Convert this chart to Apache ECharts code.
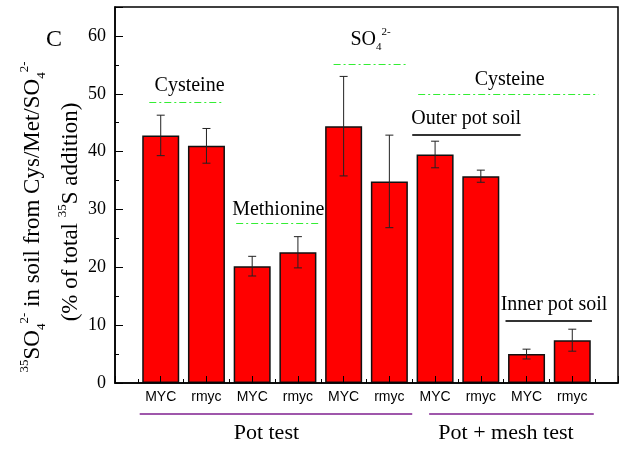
<!DOCTYPE html>
<html>
<head>
<meta charset="utf-8">
<script src="https://cdn.jsdelivr.net/npm/echarts@6/dist/echarts.min.js"></script>
<style>
  html, body { margin: 0; padding: 0; background: #fff; }
  #chart { width: 621px; height: 450px; }
</style>
</head>
<body>
<div id="chart"></div>
<script>
// Treatments along the x axis (one bar each)
const categories = ['MYC', 'rmyc', 'MYC', 'rmyc', 'MYC', 'rmyc', 'MYC', 'rmyc', 'MYC', 'rmyc'];
// 35SO4 2- recovered in soil, % of total 35S added
const means = [42.8, 41.0, 20.2, 22.6, 44.4, 34.85, 39.5, 35.75, 5.0, 7.4];
// Error bar half-lengths
const errors = [3.5, 3.0, 1.7, 2.7, 8.6, 8.0, 2.3, 1.05, 0.85, 1.9];
// Y axis range and step
const yTicks = { min: 0, max: 65, step: 10 };
// Group names below the axis
const groupNames = ['Pot test', 'Pot + mesh test'];

const SERIF = '"Liberation Serif", "Times New Roman", serif';
const SANS = '"Liberation Sans", Arial, sans-serif';
const GREEN = '#33ee33';

const barData = means.map((v, i) => [i + 1, v]);
const errData = means.map((v, i) => [i + 1, v - errors[i], v + errors[i]]);

const greenLine = { color: GREEN, width: 1.2, type: [7, 3, 2, 3] };
const blackLine = { color: '#333', width: 2, type: 'solid' };
function seg(x1, x2, y, style) {
  return [{ coord: [x1, y], lineStyle: style }, { coord: [x2, y] }];
}

const chart = echarts.init(document.getElementById('chart'), null, { renderer: 'canvas' });

const option = {
  animation: false,
  backgroundColor: '#fff',
  grid: {
    left: 115, top: 7, width: 511, height: 376,
    show: true, borderColor: '#000', borderWidth: 1.5, backgroundColor: 'transparent'
  },
  xAxis: {
    type: 'value', min: 0, max: 11, interval: 1, z: 10,
    splitLine: { show: false },
    axisLine: { show: true, lineStyle: { color: '#000', width: 1.5 } },
    axisTick: { show: true, inside: true, length: 7, lineStyle: { color: '#000', width: 1 } },
    minorTick: { show: true, splitNumber: 2, length: 4, lineStyle: { color: '#000', width: 1 } },
    axisLabel: {
      margin: 7, color: '#000', fontFamily: SANS, fontSize: 14,
      formatter: v => (v >= 1 && v <= categories.length ? categories[v - 1] : '')
    }
  },
  yAxis: {
    type: 'value', min: yTicks.min, max: yTicks.max, interval: yTicks.step, z: 10,
    splitLine: { show: false },
    axisLine: { show: true, lineStyle: { color: '#000', width: 1.5 } },
    axisTick: { show: true, inside: true, length: 8, lineStyle: { color: '#000', width: 1 } },
    minorTick: { show: true, splitNumber: 2, length: 4, lineStyle: { color: '#000', width: 1 } },
    axisLabel: {
      margin: 9, color: '#000', fontFamily: SERIF, fontSize: 18,
      formatter: v => (v % yTicks.step === 0 ? String(v) : '')
    }
  },
  series: [
    {
      type: 'bar',
      data: barData,
      barWidth: 37,
      itemStyle: { color: '#ff0000', borderColor: '#111', borderWidth: 1.5 },
      z: 2,
      markLine: {
        silent: true,
        symbol: 'none',
        label: { show: false },
        lineStyle: greenLine,
        data: [
          seg(0.75, 2.36, 48.6, greenLine),
          seg(2.65, 4.47, 27.6, greenLine),
          seg(4.78, 6.39, 55.1, greenLine),
          seg(6.63, 10.57, 49.9, greenLine),
          seg(6.5, 8.87, 43.0, blackLine),
          seg(8.54, 10.43, 10.8, blackLine)
        ]
      }
    },
    {
      type: 'custom',
      z: 3,
      data: errData,
      renderItem(params, api) {
        const x = api.value(0);
        const lo = api.coord([x, api.value(1)]);
        const hi = api.coord([x, api.value(2)]);
        const cap = 4;
        const st = { stroke: '#222', lineWidth: 1 };
        return {
          type: 'group',
          children: [
            { type: 'line', shape: { x1: hi[0], y1: hi[1], x2: lo[0], y2: lo[1] }, style: st },
            { type: 'line', shape: { x1: hi[0] - cap, y1: hi[1], x2: hi[0] + cap, y2: hi[1] }, style: st },
            { type: 'line', shape: { x1: lo[0] - cap, y1: lo[1], x2: lo[0] + cap, y2: lo[1] }, style: st }
          ]
        };
      }
    }
  ]
};
chart.setOption(option);

// Text placed in data coordinates
const px = (x, y) => chart.convertToPixel({ gridIndex: 0 }, [x, y]);
const richBase = {
  m: { fontFamily: SERIF, fontSize: 20, color: '#000', lineHeight: 26 },
  sup: { fontFamily: SERIF, fontSize: 11, color: '#000', verticalAlign: 'top', lineHeight: 12 },
  sub: { fontFamily: SERIF, fontSize: 11, color: '#000', verticalAlign: 'bottom', lineHeight: 12 }
};
function label(x, y, text, size) {
  const p = px(x, y);
  return {
    type: 'text', x: p[0], y: p[1],
    style: { text, fontFamily: SERIF, fontSize: size || 20, fill: '#000', align: 'center', verticalAlign: 'middle' }
  };
}

const so4 = px(5.59, 59.3);
const axisY = px(0, 0)[1];
const g1a = px(0.54, 0)[0], g1b = px(6.5, 0)[0];
const g2a = px(6.87, 0)[0], g2b = px(10.47, 0)[0];
const purple = { stroke: '#7f1f8f', lineWidth: 1.5 };

const yTitleRich = {
  m: { fontFamily: SERIF, fontSize: 23, color: '#000', lineHeight: 30 },
  sup: { fontFamily: SERIF, fontSize: 13, color: '#000', verticalAlign: 'top', lineHeight: 13 },
  sub: { fontFamily: SERIF, fontSize: 13, color: '#000', verticalAlign: 'bottom', lineHeight: 13 }
};

chart.setOption({
  graphic: [
    { type: 'text', x: 54, y: 40, style: { text: 'C', fontFamily: SERIF, fontSize: 24, fill: '#000', align: 'center', verticalAlign: 'middle' } },
    {
      type: 'text', x: 33, y: 217, rotation: Math.PI / 2,
      style: {
        text: '{sup|35}{m|SO}{sub|4}{sup|2-}{m| in soil from Cys/Met/SO}{sub|4}{sup|2-}',
        rich: yTitleRich, align: 'center', verticalAlign: 'middle'
      }
    },
    {
      type: 'text', x: 71, y: 212, rotation: Math.PI / 2,
      style: {
        text: '{m|(% of total }{sup|35}{m|S addition)}',
        rich: yTitleRich, align: 'center', verticalAlign: 'middle'
      }
    },
    label(1.63, 51.3, 'Cysteine'),
    label(3.57, 29.9, 'Methionine'),
    label(8.63, 52.4, 'Cysteine'),
    label(7.68, 45.6, 'Outer pot soil'),
    label(9.6, 13.5, 'Inner pot soil'),
    {
      type: 'text', x: so4[0], y: so4[1],
      style: { text: '{m|SO}{sub|4}{sup|2-}', rich: richBase, align: 'center', verticalAlign: 'middle' }
    },
    { type: 'line', shape: { x1: g1a, y1: axisY + 31, x2: g1b, y2: axisY + 31 }, style: purple },
    { type: 'line', shape: { x1: g2a, y1: axisY + 31, x2: g2b, y2: axisY + 31 }, style: purple },
    { type: 'text', x: px(3.31, 0)[0], y: axisY + 50, style: { text: groupNames[0], fontFamily: SERIF, fontSize: 22, fill: '#000', align: 'center', verticalAlign: 'middle' } },
    { type: 'text', x: px(8.55, 0)[0], y: axisY + 50, style: { text: groupNames[1], fontFamily: SERIF, fontSize: 22, fill: '#000', align: 'center', verticalAlign: 'middle' } }
  ]
});
</script>
</body>
</html>
